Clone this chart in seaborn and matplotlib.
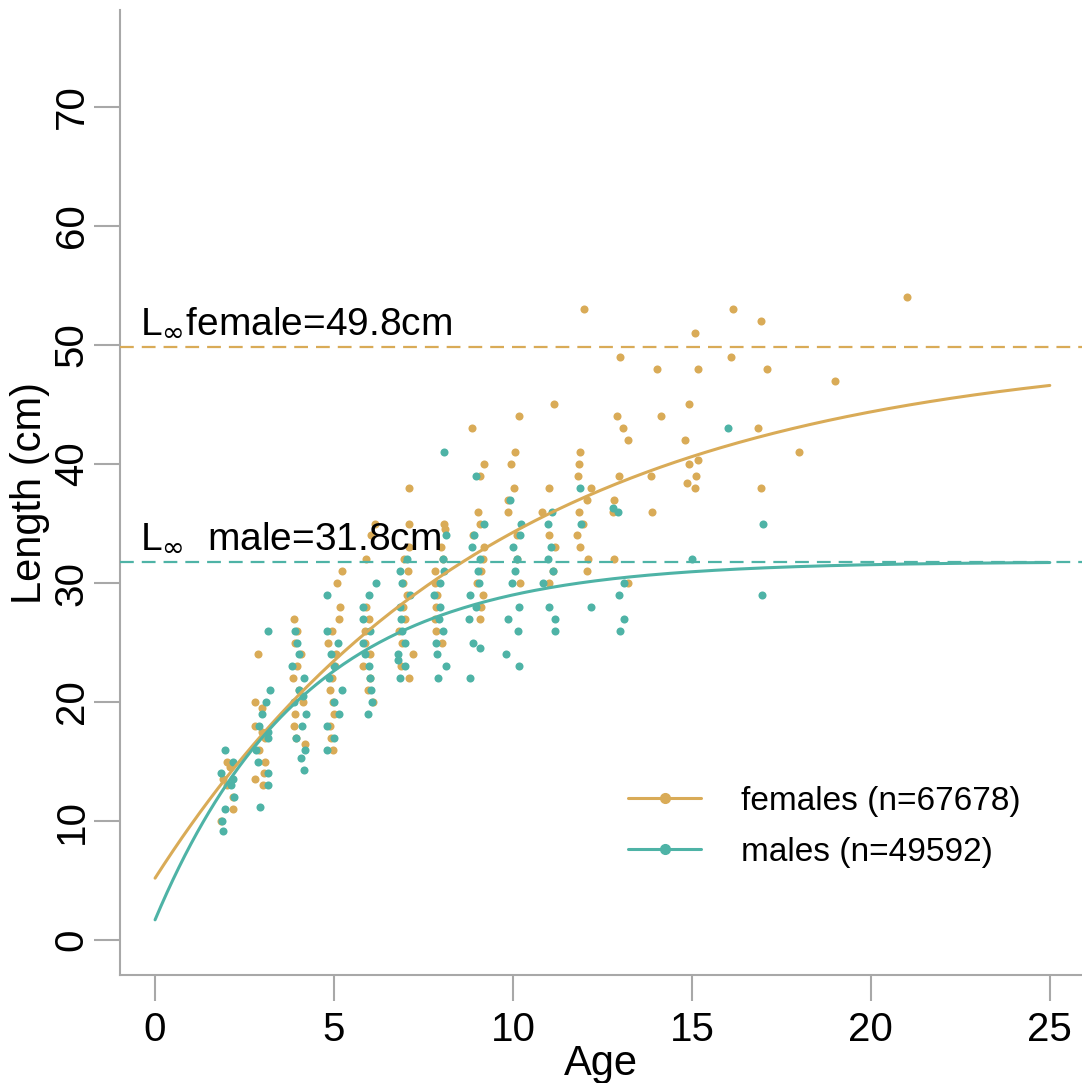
import numpy as np
import pandas as pd
import matplotlib
matplotlib.use("Agg")
import matplotlib.pyplot as plt
import seaborn as sns
from matplotlib.lines import Line2D

# ---------------- data ----------------
female_ages = ([2]*7 + [3]*11 + [4]*12 + [5]*15 + [6]*12 + [7]*14 + [8]*11 + [9]*13 +
               [10]*9 + [11]*7 + [12]*12 + [13]*9 + [14]*4 + [15]*9 + [16]*2 + [17]*4 +
               [18] + [19] + [21])
female_lengths = ([15, 14.5, 13.5, 13, 12, 11, 10] +
                  [24, 20, 19.5, 18, 17.5, 17, 16, 15, 14, 13.5, 13] +
                  [27, 26, 25, 24, 23, 22, 21, 20, 19, 18, 17, 16.5] +
                  [31, 30, 28, 27, 26, 25, 24, 23, 22, 21, 20, 19, 18, 17, 16] +
                  [35, 34, 32, 28, 27, 26, 25, 24, 23, 22, 21, 20] +
                  [38, 35, 33, 32, 31, 30, 29, 28, 27, 26, 25, 24, 23, 22] +
                  [35, 34.5, 33, 32, 31, 30, 29, 28, 27, 26, 25] +
                  [43, 40, 39, 36, 35, 34, 33, 32, 31, 30, 29, 28, 27] +
                  [44, 41, 40, 38, 37, 36, 34, 32, 30] +
                  [45, 38, 36, 34, 33, 31, 30] +
                  [53, 41, 40, 39, 38, 37, 36, 35, 34, 33, 32, 31] +
                  [49, 44, 43, 42, 39, 37, 36, 32, 30] +
                  [48, 44, 39, 36] +
                  [51, 48, 45, 42, 40.3, 40, 39, 38.4, 38] +
                  [53, 49] +
                  [52, 48, 43, 38] +
                  [41] + [47] + [54])

male_ages = ([2]*9 + [3]*12 + [4]*14 + [5]*12 + [6]*12 + [7]*12 + [8]*13 + [9]*13 +
             [10]*12 + [11]*9 + [12]*3 + [13]*6 + [15] + [16] + [17]*2)
male_lengths = ([16, 15, 14, 13.5, 13, 12, 11, 10, 9.2] +
                [26, 21, 20, 19, 18, 17.5, 17, 16, 15, 14, 13, 11.2] +
                [26, 25, 24, 23, 22, 21, 20.5, 20, 19, 18, 17, 16, 15.3, 14.3] +
                [29, 26, 25, 24, 23, 22, 21, 20, 19, 18, 17, 16] +
                [30, 29, 28, 27, 26, 25, 24, 23, 22, 21, 20, 19] +
                [32, 31, 30, 29, 28, 27, 26, 25, 24, 23.5, 23, 22] +
                [41, 34, 32, 31, 30, 29, 28, 27, 26, 25, 24, 23, 22] +
                [39, 35, 34, 33, 32, 31, 30, 29, 28, 27, 25, 24.5, 22] +
                [37, 35, 34, 33, 32, 31, 30, 28, 27, 26, 24, 23] +
                [36, 35, 33, 32, 31, 30, 28, 27, 26] +
                [38, 35, 28] +
                [36, 36.3, 30, 29, 27, 26] +
                [32] + [43] + [35, 29])

# von Bertalanffy growth parameters (fitted curves shown in the chart)
female_Linf, female_K, female_t0 = 49.8, 0.1054, -1.046
male_Linf, male_K, male_t0 = 31.8, 0.2375, -0.231

legend_labels = ["females (n=67678)", "males (n=49592)"]
x_ticks = [0, 5, 10, 15, 20, 25]
y_ticks = [0, 10, 20, 30, 40, 50, 60, 70]

female_color = "#D9AB57"
male_color = "#4EB3A6"
axis_gray = "#A8A8A8"

# ---------------- plot ----------------
sns.set_theme(style="white")
plt.rcParams['font.family'] = ['Liberation Sans', 'DejaVu Sans']
plt.rcParams['text.color'] = 'black'
plt.rcParams['axes.labelcolor'] = 'black'
plt.rcParams['xtick.color'] = 'black'
plt.rcParams['ytick.color'] = 'black'

fig = plt.figure(figsize=(10.82, 10.83), dpi=100)
ax = fig.add_axes([120/1082, 1 - 975/1083, 1 - 120/1082, (975 - 10)/1083])

np.random.seed(3)
df_f = pd.DataFrame({"age": female_ages, "length": female_lengths})
df_m = pd.DataFrame({"age": male_ages, "length": male_lengths})
sns.stripplot(data=df_f, x="age", y="length", native_scale=True, orient="x",
              jitter=0.22, color=female_color, size=5.8, linewidth=0, ax=ax, zorder=2)
sns.stripplot(data=df_m, x="age", y="length", native_scale=True, orient="x",
              jitter=0.22, color=male_color, size=5.8, linewidth=0, ax=ax, zorder=2)

t = np.linspace(0, 25, 300)
curve_f = female_Linf * (1 - np.exp(-female_K * (t - female_t0)))
curve_m = male_Linf * (1 - np.exp(-male_K * (t - male_t0)))
sns.lineplot(x=t, y=curve_f, color=female_color, lw=2.2, ax=ax, zorder=3)
sns.lineplot(x=t, y=curve_m, color=male_color, lw=2.2, ax=ax, zorder=3)

ax.axhline(female_Linf, color=female_color, lw=1.6, ls=(0, (6.2, 3.6)), zorder=3)
ax.axhline(male_Linf, color=male_color, lw=1.6, ls=(0, (6.2, 3.6)), zorder=3)

ax.text(-0.42, 51.0, r"L$_{\infty}$female=49.8cm", fontsize=28, va="baseline", ha="left", zorder=4)
ax.text(-0.42, 33.0, r"L$_{\infty}$  male=31.8cm", fontsize=28, va="baseline", ha="left", zorder=4)

ax.set_xlim(-0.98, 25.9)
ax.set_ylim(-2.94, 78.15)
ax.set_xticks(x_ticks)
ax.set_xticklabels([str(v) for v in x_ticks])
ax.set_yticks(y_ticks)
ax.set_yticklabels([str(v) for v in y_ticks], rotation=90, va="center")
ax.set_xlabel("Age", fontsize=30, labelpad=-4)
ax.set_ylabel("Length (cm)", fontsize=30, labelpad=2)

ax.tick_params(axis="both", which="major", length=19, width=1.5, color=axis_gray,
               labelsize=29, labelcolor="black", bottom=True, left=True)
ax.tick_params(axis="x", pad=7)
ax.tick_params(axis="y", pad=2)
for side in ["top", "right"]:
    ax.spines[side].set_visible(False)
for side in ["left", "bottom"]:
    ax.spines[side].set_color(axis_gray)
    ax.spines[side].set_linewidth(1.5)
ax.grid(False)

handles = [Line2D([0], [0], color=female_color, lw=2.2, marker="o", markersize=7),
           Line2D([0], [0], color=male_color, lw=2.2, marker="o", markersize=7)]
ax.legend(handles, legend_labels, loc="upper left", bbox_to_anchor=(0.528, 0.196),
          frameon=False, fontsize=24, handlelength=2.2, handletextpad=1.2,
          labelspacing=0.6, borderpad=0, borderaxespad=0)

fig.savefig("out.png", dpi=100)
